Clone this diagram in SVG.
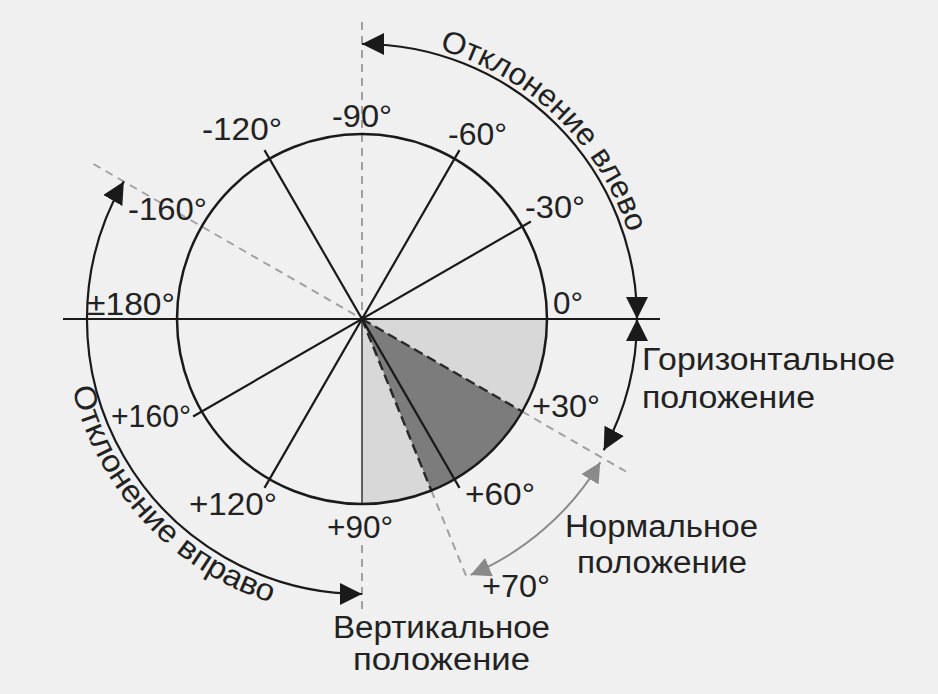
<svg xmlns="http://www.w3.org/2000/svg" width="938" height="694" viewBox="0 0 938 694">
<style>
.lbl{font-family:"Liberation Sans",Arial,sans-serif;font-size:31px;fill:#222;}
.ln{stroke:#1a1a1a;stroke-width:2.2;fill:none;}
.dash{stroke:#a0a0a0;stroke-width:2;fill:none;stroke-dasharray:8 6;}
.dk{stroke:#2a2a2a;stroke-width:2.5;fill:none;stroke-dasharray:10 5;}
.arc{stroke:#1a1a1a;stroke-width:2.2;fill:none;marker-start:url(#ah);marker-end:url(#ah);}
.garc{stroke:#8a8a8a;stroke-width:2;fill:none;marker-start:url(#ahg);marker-end:url(#ahg);}
</style>
<defs>
<marker id="ah" viewBox="0 0 10 10" refX="10" refY="5" markerWidth="22" markerHeight="22" markerUnits="userSpaceOnUse" orient="auto-start-reverse"><path d="M0,0 L10,5 L0,10 z" fill="#1a1a1a"/></marker>
<marker id="ahg" viewBox="0 0 10 10" refX="10" refY="5" markerWidth="20" markerHeight="20" markerUnits="userSpaceOnUse" orient="auto-start-reverse"><path d="M0,0 L10,5 L0,10 z" fill="#8a8a8a"/></marker>
<path id="tpR" d="M439.2,49.8 A280,280 0 0 1 640.9,294.6"/>
<path id="tpL" d="M72.2,388.6 A298,298 0 0 0 336,615.9"/>
</defs>
<rect x="0" y="0" width="938" height="694" fill="#f0f0f0"/>
<g id="dial">
<path d="M362,319 L547,319 A185,185 0 0 1 362,504 Z" fill="#d8d8d8"/>
<path d="M362,319 L522.2,411.5 A185,185 0 0 1 431.3,490.5 Z" fill="#7c7c7c"/>
<line class="dash" x1="362" y1="22" x2="362" y2="319"/>
<line class="dash" x1="362" y1="545" x2="362" y2="612"/>
<line class="dash" x1="93.5" y1="164" x2="362" y2="319"/>
<line class="dash" x1="522.2" y1="411.5" x2="626" y2="471.5"/>
<line class="dash" x1="431.3" y1="490.5" x2="467" y2="578"/>
<line class="dk" x1="362" y1="319" x2="522.2" y2="411.5"/>
<line class="dk" x1="362" y1="319" x2="431.3" y2="490.5"/>
<line class="ln" x1="63" y1="319" x2="660" y2="319"/>
<line x1="362" y1="319" x2="362" y2="504" stroke="#333" stroke-width="1.5"/>
<line class="ln" x1="264.5" y1="150.1" x2="459.5" y2="487.9"/>
<line class="ln" x1="459.5" y1="150.1" x2="264.5" y2="487.9"/>
<line class="ln" x1="530.9" y1="221.5" x2="193.1" y2="416.5"/>
<circle cx="362" cy="319" r="185" fill="none" stroke="#1a1a1a" stroke-width="2.5"/>
</g>
<g id="connectors">
<path class="arc" d="M362,44 A275,275 0 0 1 637,319"/>
<path class="arc" d="M637,319 A275,275 0 0 1 603.7,450.2"/>
<path class="garc" d="M600.3,462.2 A278,278 0 0 1 470.6,574.9"/>
<path class="arc" d="M123.8,181.5 A275,275 0 0 0 362,594"/>
</g>
<g id="angle-labels">
<text class="lbl" x="332" y="127" textLength="60" lengthAdjust="spacingAndGlyphs">-90°</text>
<text class="lbl" x="202" y="140" textLength="80" lengthAdjust="spacingAndGlyphs">-120°</text>
<text class="lbl" x="448" y="145" textLength="59" lengthAdjust="spacingAndGlyphs">-60°</text>
<text class="lbl" x="525" y="218" textLength="60" lengthAdjust="spacingAndGlyphs">-30°</text>
<text class="lbl" x="128" y="220" textLength="79" lengthAdjust="spacingAndGlyphs">-160°</text>
<text class="lbl" x="87" y="315" textLength="88" lengthAdjust="spacingAndGlyphs">±180°</text>
<text class="lbl" x="553" y="314" textLength="30" lengthAdjust="spacingAndGlyphs">0°</text>
<text class="lbl" x="111" y="427" textLength="80" lengthAdjust="spacingAndGlyphs">+160°</text>
<text class="lbl" x="189" y="515" textLength="88" lengthAdjust="spacingAndGlyphs">+120°</text>
<text class="lbl" x="327" y="538" textLength="66" lengthAdjust="spacingAndGlyphs">+90°</text>
<text class="lbl" x="465" y="505" textLength="70" lengthAdjust="spacingAndGlyphs">+60°</text>
<text class="lbl" x="532" y="417" textLength="68" lengthAdjust="spacingAndGlyphs">+30°</text>
<text class="lbl" x="482" y="597" textLength="68" lengthAdjust="spacingAndGlyphs">+70°</text>
</g>
<g id="horizontal-label">
<text class="lbl" x="642" y="370" textLength="253" lengthAdjust="spacingAndGlyphs">Горизонтальное</text>
<text class="lbl" x="642" y="408" textLength="173" lengthAdjust="spacingAndGlyphs">положение</text>
</g>
<g id="normal-label">
<text class="lbl" x="565" y="537" textLength="193" lengthAdjust="spacingAndGlyphs">Нормальное</text>
<text class="lbl" x="577" y="573" textLength="170" lengthAdjust="spacingAndGlyphs">положение</text>
</g>
<g id="vertical-label">
<text class="lbl" x="333" y="638" textLength="217" lengthAdjust="spacingAndGlyphs">Вертикальное</text>
<text class="lbl" x="353" y="670" textLength="177" lengthAdjust="spacingAndGlyphs">положение</text>
</g>
<g id="left-deviation-label">
<text class="lbl"><textPath href="#tpR" textLength="274" lengthAdjust="spacingAndGlyphs">Отклонение влево</textPath></text>
</g>
<g id="right-deviation-label">
<text class="lbl"><textPath href="#tpL" textLength="305" lengthAdjust="spacingAndGlyphs">Отклонение вправо</textPath></text>
</g>
</svg>
